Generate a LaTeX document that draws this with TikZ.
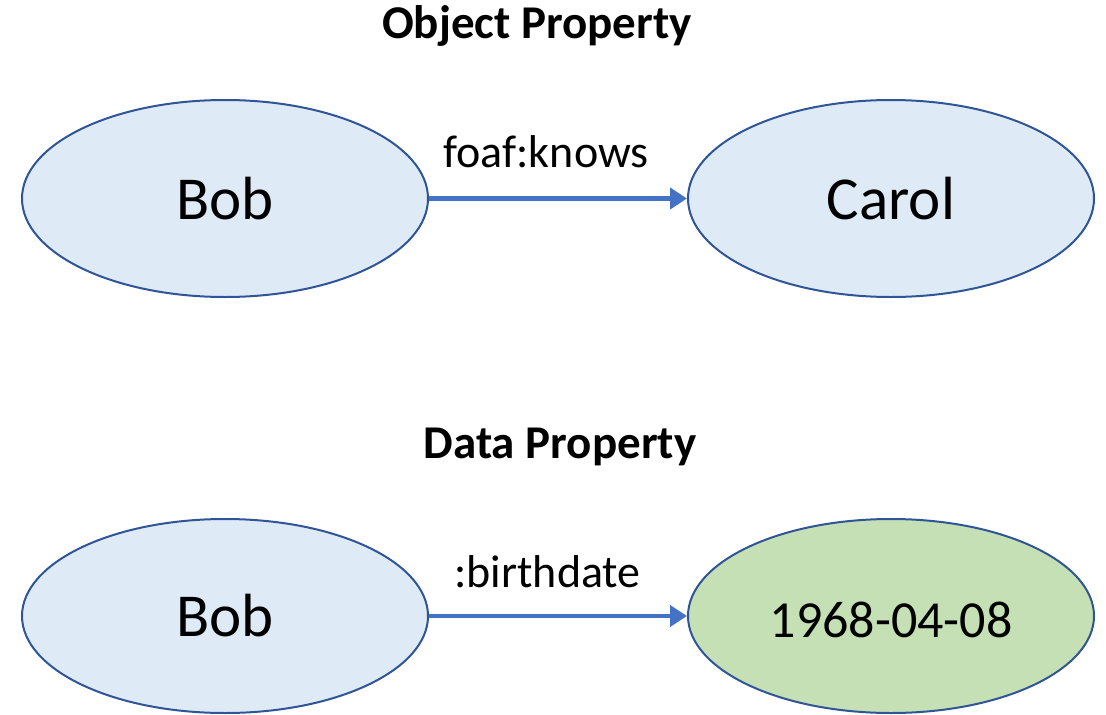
\documentclass[tikz,border=0pt]{standalone}
\usepackage{fontspec}
\setmainfont{Carlito}
\usetikzlibrary{shapes.geometric,arrows.meta}
\definecolor{nodefill}{HTML}{DEEBF7}
\definecolor{litfill}{HTML}{C5E0B4}
\definecolor{nodeline}{HTML}{2F5597}
\definecolor{arrowcol}{HTML}{4472C4}
\tikzset{
  res/.style={ellipse, draw=nodeline, line width=2pt, fill=nodefill, inner sep=0pt,
    minimum width=406pt, minimum height=197pt, text height=41pt, text depth=0pt,
    font=\fontsize{61}{61}\selectfont},
  lit/.style={res, fill=litfill, text height=42pt, font=\fontsize{52}{52}\selectfont},
  prop/.style={draw=arrowcol, line width=4.5pt, -{Triangle[length=17pt,width=21pt]}},
  plabel/.style={anchor=base, inner sep=0pt, font=\fontsize{46}{46}\selectfont},
  title/.style={anchor=base, inner sep=0pt, font=\fontsize{47}{47}\selectfont\bfseries}
}
\begin{document}
\begin{tikzpicture}[x=1pt,y=-1pt]
\useasboundingbox (0,0) rectangle (1106,715);
\node[title] (t1) at (537,38) {Object Property};
\node[res] (bob1) at (225,198.5) {Bob};
\node[res] (carol) at (891,198.5) {Carol};
\draw[prop] (bob1) -- (carol);
\node[plabel] (knows) at (546,167) {foaf:knows};
\node[title] (t2) at (560,458) {Data Property};
\node[res, minimum height=194pt] (bob2) at (225,616) {Bob};
\node[lit, minimum height=194pt] (date) at (891,616) {1968-04-08};
\draw[prop] (bob2) -- (date);
\node[plabel] (birth) at (547.5,587) {:birthdate};
\end{tikzpicture}
\end{document}
